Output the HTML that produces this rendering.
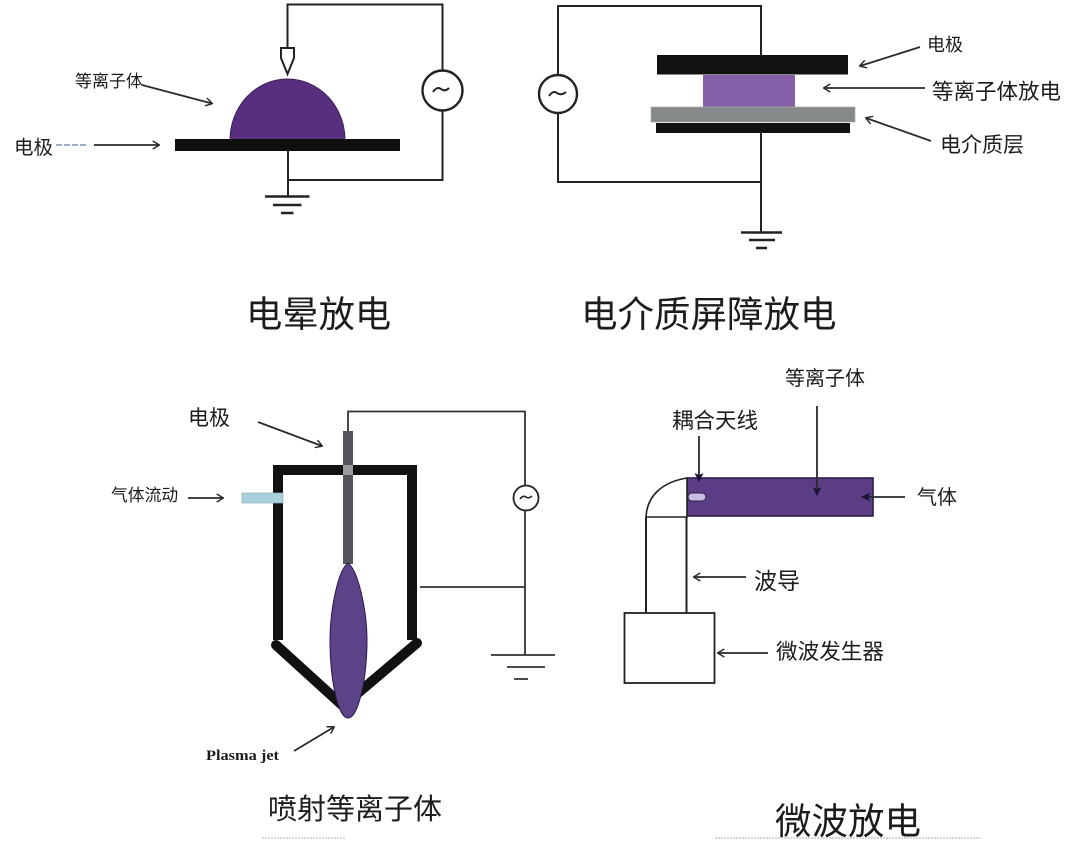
<!DOCTYPE html>
<html lang="zh">
<head>
<meta charset="utf-8">
<style>
html,body{margin:0;padding:0;background:#fff;width:1080px;height:842px;overflow:hidden}
svg{display:block;filter:blur(.35px)}
text{font-family:"Liberation Sans","Noto Sans CJK SC",sans-serif;fill:#1c1c1c}
.w{fill:none;stroke:#222;stroke-width:2}
.a{fill:none;stroke:#2a2a2a;stroke-width:1.800}
</style>
</head>
<body>
<svg width="1080" height="842" viewBox="0 0 1080 842" xmlns="http://www.w3.org/2000/svg">
<defs>
<marker id="m" viewBox="0 0 10 10" refX="9" refY="5" markerWidth="9" markerHeight="9" markerUnits="userSpaceOnUse" orient="auto">
<path d="M2 0.5 L9.5 5 L2 9.5" fill="none" stroke="#2a2a2a" stroke-width="1.600"/>
</marker>
<marker id="f" viewBox="0 0 10 10" refX="9" refY="5" markerWidth="10" markerHeight="10" markerUnits="userSpaceOnUse" orient="auto">
<path d="M1 0.5 L10 5 L1 9.500 L3 5Z" fill="#1c1238"/>
</marker>
</defs>

<!-- Corona -->
<path class="w" d="M287.500 48V4.500H442.500V70M442.500 110V180H288"/>
<circle cx="442.500" cy="90.500" r="20" fill="#fff" stroke="#222" stroke-width="2.400"/>
<path d="M433 92q4-6 8-3t8-1" fill="none" stroke="#222" stroke-width="2"/>
<path d="M281 48H294V58L287.500 74L281 58Z" fill="#fff" stroke="#222" stroke-width="2"/>
<path d="M230 140A57.500 61 0 0 1 345 140Z" fill="#582f7e" stroke="#3a1f5a" stroke-width="1"/>
<rect x="175" y="139" width="225" height="12" fill="#0f0f0f"/>
<path class="w" d="M288 151V196"/>
<path d="M265 196.500H309.500M273 205H301.500M281 213H293.500" stroke="#222" stroke-width="2.500" fill="none"/>
<path class="a" d="M142 85L212 103.500" marker-end="url(#m)"/>
<text x="75" y="87" font-size="17">等离子体</text>
<text x="14" y="154" font-size="19.500">电极</text>
<path d="M56 145H88" stroke="#7d8fb0" stroke-width="1.500" stroke-dasharray="6 2"/>
<path class="a" d="M94 145H159" marker-end="url(#m)"/>

<!-- DBD -->
<path class="w" d="M761 55V6H558V75M558 113V182H761M761 133V232"/>
<circle cx="558" cy="94" r="19" fill="#fff" stroke="#222" stroke-width="2.400"/>
<path d="M549 96q4-6 8-3t9-1" fill="none" stroke="#222" stroke-width="2"/>
<rect x="657" y="55" width="191" height="19.500" fill="#111"/>
<rect x="703" y="75" width="92" height="32" fill="#8560a8"/>
<rect x="651" y="107" width="204" height="15" fill="#85898a" stroke="#aaa" stroke-width=".7"/>
<rect x="656" y="123" width="194" height="10" fill="#111"/>
<path d="M741 232.500H782M749 240H775M756 248H767" stroke="#222" stroke-width="2.500" fill="none"/>
<path class="a" d="M920 47L860 66" marker-end="url(#m)"/>
<path class="a" d="M925 88H824" marker-end="url(#m)"/>
<path class="a" d="M931 141L866 118" marker-end="url(#m)"/>
<text x="927" y="51" font-size="18">电极</text>
<text x="932" y="99" font-size="21.500">等离子体放电</text>
<text x="940" y="152" font-size="21">电介质层</text>

<text x="246" y="327" font-size="36.300">电晕放电</text>
<text x="581" y="327" font-size="36.500">电介质屏障放电</text>

<!-- Jet -->
<path d="M348 431V411.500H525V655M420 587H525" fill="none" stroke="#333" stroke-width="1.800"/>
<circle cx="526" cy="498" r="12.500" fill="#fff" stroke="#222" stroke-width="1.800"/>
<path d="M520 499q3-4 6-2t6-1" fill="none" stroke="#222" stroke-width="1.500"/>
<rect x="273" y="465" width="10" height="175" fill="#111"/>
<rect x="407" y="465" width="10" height="175" fill="#111"/>
<rect x="273" y="465" width="144" height="10" fill="#111"/>
<path d="M276 645L342 705M417 643L358 693" stroke="#111" stroke-width="10" stroke-linecap="round" fill="none"/>
<rect x="242" y="493" width="41" height="10" fill="#a9d1db" stroke="#8fb0b8" stroke-width=".7"/>
<rect x="343" y="431" width="10" height="133" fill="#54545c"/>
<rect x="343" y="465" width="10" height="10" fill="#9a9a9e"/>
<path d="M348 563C358 570 367 610 367 640C367 680 358 718 348 718C338 718 330 680 330 640C330 610 338 570 348 563Z" fill="#5c4287" stroke="#2a1a50" stroke-width="1"/>
<path d="M491 655H555M507 667H545M514 679H528" stroke="#333" stroke-width="1.800" fill="none"/>
<path class="a" d="M258 422L322 446" marker-end="url(#m)"/>
<path class="a" d="M188 498H223" marker-end="url(#m)"/>
<path class="a" d="M294 751L334 727" marker-end="url(#m)"/>
<text x="188" y="425" font-size="21">电极</text>
<text x="111" y="501" font-size="16.800">气体流动</text>
<text x="206" y="760" font-size="15" font-weight="bold" style="font-family:'Liberation Serif',serif" textLength="73" lengthAdjust="spacingAndGlyphs">Plasma jet</text>
<text x="268" y="819" font-size="29">喷射等离子体</text>

<!-- Microwave -->
<rect x="687" y="478" width="186" height="38" fill="#5a3d85" stroke="#2e1f4a" stroke-width="1.600"/>
<path d="M687 478C662 482 647 496 646 517H687Z" fill="#fff" stroke="#222" stroke-width="1.600"/>
<path class="w" d="M646 517V613M686.500 517V613"/>
<rect x="624.500" y="613" width="90" height="70" fill="#fff" stroke="#222" stroke-width="1.800"/>
<rect x="688" y="493" width="18" height="8" rx="4" fill="#c8bde0" stroke="#2e1f4a" stroke-width="1"/>
<path class="a" d="M699 436V481" marker-end="url(#f)"/>
<path class="a" d="M817 406V495" marker-end="url(#f)"/>
<path class="a" d="M905 497H862" marker-end="url(#f)"/>
<path class="a" d="M746 577H694" marker-end="url(#m)"/>
<path class="a" d="M768 653H718" marker-end="url(#m)"/>
<text x="785" y="385" font-size="20">等离子体</text>
<text x="672" y="428" font-size="21.500">耦合天线</text>
<text x="917" y="504" font-size="20">气体</text>
<text x="754" y="589" font-size="23">波导</text>
<text x="776" y="659" font-size="21.600">微波发生器</text>
<text x="775" y="834" font-size="36.500">微波放电</text>

<path d="M262 838H345" stroke="#ccc" stroke-width="1.500" stroke-dasharray="2 1"/>
<path d="M715 838H980" stroke="#c4c8d0" stroke-width="1.500" stroke-dasharray="2 1"/>
</svg>
</body>
</html>
